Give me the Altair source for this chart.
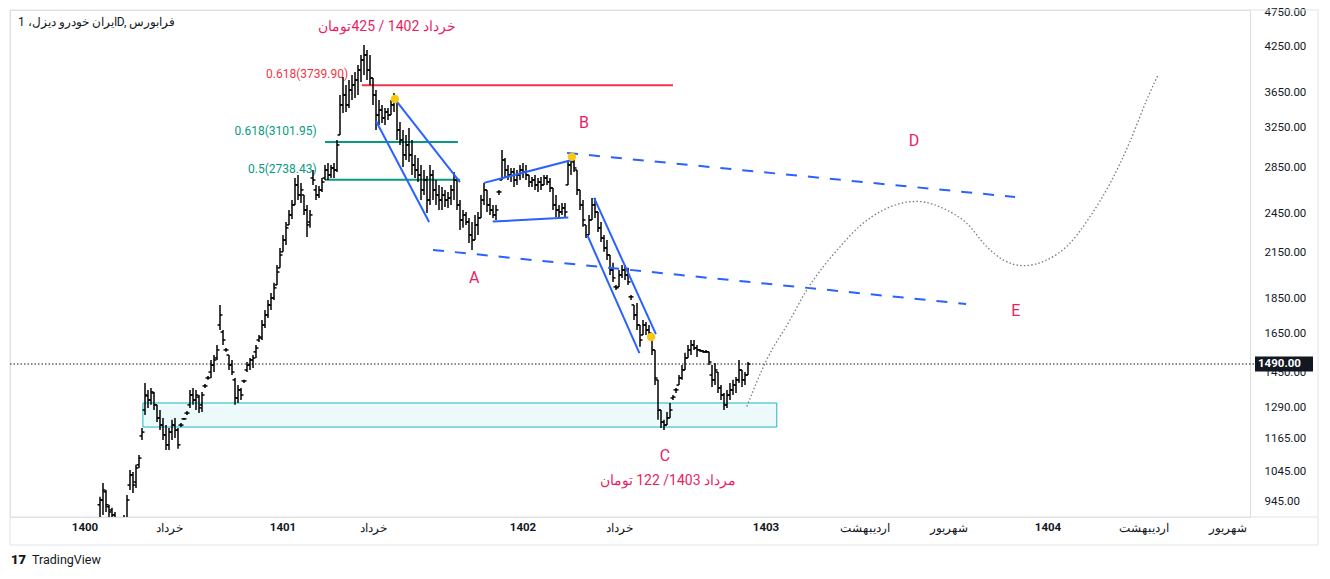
import altair as alt
import pandas as pd

# ---------------- OHLC bars (daily) ----------------
bar_high = [961, 1006, 983, 936, 927, 914, 890, 876, 905, 967,
            1050, 1043, 1068, 1103, 1206, 1400, 1368, 1377, 1359, 1302,
            1280, 1247, 1218, 1206, 1239, 1247, 1206, 1226, 1247, 1276,
            1368, 1377, 1368, 1345, 1359, 1395, 1432, 1510, 1535, 1587,
            1811, 1667, 1571, 1535, 1510, 1423, 1390, 1377, 1414, 1500,
            1520, 1535, 1587, 1640, 1723, 1781, 1841, 1884, 1948, 2067,
            2186, 2282, 2382, 2478, 2561, 2754, 2782, 2710, 2604, 2520,
            2478, 2828, 2692, 2683, 2754, 2875, 2894, 2875, 2894, 3123,
            3623, 3845, 3745, 3807, 3870, 3909, 4001, 4135, 4274, 4204,
            4135, 3832, 3683, 3564, 3506, 3471, 3471, 3564, 3647, 3564,
            3314, 3228, 3175, 3249, 3123, 2972, 2943, 2875, 2828, 2773,
            2875, 2828, 2736, 2692, 2674, 2648, 2630, 2692, 2810, 2754,
            2561, 2478, 2462, 2414, 2382, 2438, 2462, 2604, 2710, 2648,
            2578, 2520, 2520, 2648, 3021, 2943, 2875, 2847, 2847, 2828,
            2875, 2894, 2875, 2782, 2764, 2782, 2754, 2764, 2782, 2782,
            2754, 2665, 2604, 2520, 2536, 2536, 2923, 2943, 2923, 2828,
            2648, 2561, 2359, 2438, 2578, 2578, 2462, 2382, 2282, 2244,
            2136, 2081, 1935, 2033, 2067, 2067, 2047, 1872, 1811, 1823,
            1695, 1723, 1712, 1695, 1640, 1561, 1414, 1280, 1239, 1272,
            1310, 1345, 1377, 1437, 1485, 1546, 1587, 1613, 1613, 1587,
            1566, 1561, 1561, 1551, 1485, 1495, 1451, 1390, 1354, 1368,
            1400, 1414, 1428, 1510, 1461, 1451, 1500]
bar_low = [890, 905, 914, 899, 890, 876, 847, 834, 847, 890,
           983, 973, 989, 1057, 1159, 1259, 1289, 1302, 1280, 1230,
           1198, 1159, 1122, 1122, 1159, 1167, 1126, 1210, 1239, 1259,
           1289, 1302, 1280, 1267, 1272, 1377, 1414, 1423, 1451, 1510,
           1667, 1587, 1551, 1461, 1437, 1302, 1310, 1323, 1400, 1451,
           1461, 1471, 1520, 1603, 1613, 1678, 1735, 1781, 1841, 1935,
           2047, 2158, 2208, 2359, 2406, 2520, 2561, 2536, 2438, 2267,
           2336, 2692, 2561, 2578, 2630, 2736, 2736, 2754, 2754, 2810,
           3175, 3414, 3425, 3471, 3564, 3587, 3623, 3782, 3870, 3807,
           3745, 3506, 3228, 3281, 3303, 3281, 3336, 3391, 3425, 3123,
           3072, 2856, 2923, 2904, 2782, 2754, 2718, 2561, 2604, 2454,
           2520, 2561, 2520, 2478, 2478, 2503, 2495, 2520, 2561, 2478,
           2320, 2336, 2359, 2222, 2172, 2244, 2282, 2414, 2520, 2462,
           2438, 2414, 2398, 2604, 2736, 2754, 2736, 2718, 2674, 2692,
           2736, 2754, 2736, 2674, 2674, 2648, 2630, 2648, 2692, 2692,
           2630, 2478, 2422, 2422, 2438, 2414, 2692, 2782, 2810, 2604,
           2478, 2344, 2259, 2282, 2398, 2414, 2305, 2230, 2158, 2101,
           1999, 1954, 1903, 1922, 1980, 1967, 1935, 1841, 1723, 1667,
           1577, 1640, 1640, 1640, 1535, 1390, 1239, 1206, 1198, 1218,
           1247, 1323, 1354, 1390, 1414, 1461, 1520, 1535, 1561, 1525,
           1551, 1546, 1546, 1485, 1381, 1390, 1354, 1323, 1280, 1289,
           1323, 1345, 1354, 1400, 1381, 1390, 1437]
bar_open = [936, 951, 977, 930, 920, 905, 884, 861, 861, 896,
            999, 1033, 1009, 1068, 1175, 1280, 1341, 1323, 1354, 1302,
            1247, 1218, 1179, 1141, 1190, 1218, 1198, 1218, 1243, 1267,
            1302, 1345, 1323, 1336, 1302, 1386, 1423, 1451, 1485, 1520,
            1695, 1656, 1561, 1535, 1485, 1414, 1332, 1368, 1409, 1461,
            1485, 1510, 1551, 1613, 1624, 1695, 1752, 1811, 1853, 1935,
            2047, 2158, 2244, 2359, 2438, 2520, 2692, 2604, 2604, 2478,
            2382, 2754, 2648, 2604, 2648, 2754, 2828, 2782, 2847, 2828,
            3175, 3506, 3623, 3506, 3683, 3745, 3807, 3935, 4067, 4135,
            3935, 3832, 3623, 3391, 3448, 3358, 3425, 3391, 3506, 3564,
            3228, 3123, 2972, 3072, 2972, 2875, 2828, 2782, 2648, 2736,
            2561, 2782, 2648, 2604, 2561, 2604, 2561, 2578, 2648, 2736,
            2520, 2398, 2438, 2382, 2282, 2244, 2359, 2414, 2561, 2648,
            2520, 2478, 2438, 2630, 2736, 2923, 2828, 2782, 2810, 2736,
            2782, 2828, 2810, 2782, 2718, 2736, 2692, 2718, 2692, 2754,
            2718, 2665, 2520, 2478, 2462, 2495, 2692, 2875, 2904, 2828,
            2648, 2520, 2359, 2282, 2398, 2520, 2462, 2336, 2259, 2186,
            2136, 2033, 1922, 1922, 1999, 2033, 1999, 1860, 1811, 1752,
            1695, 1640, 1695, 1667, 1640, 1561, 1414, 1280, 1230, 1218,
            1247, 1332, 1368, 1390, 1423, 1461, 1520, 1561, 1587, 1571,
            1561, 1556, 1551, 1551, 1437, 1414, 1451, 1377, 1345, 1302,
            1345, 1368, 1390, 1414, 1461, 1414, 1437]
bar_close = [951, 983, 936, 914, 905, 884, 861, 855, 890, 951,
             1033, 999, 1057, 1092, 1190, 1345, 1323, 1359, 1302, 1247,
             1218, 1179, 1141, 1190, 1218, 1198, 1141, 1218, 1243, 1267,
             1345, 1323, 1345, 1289, 1345, 1386, 1423, 1485, 1510, 1561,
             1752, 1613, 1561, 1485, 1451, 1332, 1368, 1345, 1409, 1485,
             1510, 1520, 1571, 1629, 1695, 1752, 1811, 1853, 1916, 2019,
             2136, 2244, 2336, 2438, 2520, 2692, 2604, 2648, 2478, 2359,
             2438, 2736, 2604, 2648, 2718, 2828, 2782, 2847, 2828, 3072,
             3506, 3623, 3506, 3683, 3745, 3807, 3935, 4067, 4135, 3935,
             3832, 3623, 3391, 3448, 3358, 3425, 3391, 3506, 3564, 3228,
             3123, 2972, 3072, 2972, 2875, 2828, 2782, 2648, 2736, 2561,
             2782, 2648, 2604, 2561, 2604, 2561, 2578, 2648, 2736, 2520,
             2398, 2438, 2382, 2282, 2244, 2359, 2414, 2561, 2648, 2520,
             2478, 2438, 2478, 2630, 2923, 2828, 2782, 2810, 2736, 2782,
             2828, 2810, 2782, 2718, 2736, 2692, 2718, 2692, 2754, 2718,
             2665, 2520, 2478, 2462, 2495, 2462, 2875, 2923, 2847, 2648,
             2520, 2398, 2282, 2398, 2520, 2462, 2336, 2259, 2186, 2136,
             2033, 1980, 1916, 1999, 2033, 1999, 1954, 1860, 1752, 1695,
             1613, 1695, 1667, 1651, 1561, 1423, 1280, 1230, 1218, 1247,
             1280, 1336, 1368, 1423, 1461, 1520, 1561, 1587, 1571, 1561,
             1556, 1551, 1551, 1500, 1414, 1461, 1377, 1345, 1302, 1345,
             1368, 1390, 1414, 1461, 1414, 1437, 1490]

# ---------------- axes ----------------
price_ticks = [945, 1045, 1165, 1290, 1450, 1650, 1850, 2150, 2450, 2850,
               3250, 3650, 4250, 4750]
time_pos = [-5, 23, 61, 91, 141, 173, 222, 255, 283, 316, 348, 376]
time_text = ["1400", "خرداد", "1401", "خرداد", "1402", "خرداد", "1403",
             "اردیبهشت", "شهریور", "1404", "اردیبهشت", "شهریور"]
time_is_year = [True, False, True, False, True, False, True, False, False,
                True, False, False]

last_price = 1490

# ---------------- drawings ----------------
fib_x1 = [87.3, 75, 75]
fib_x2 = [191, 119.3, 120]
fib_price = [3739.90, 3101.95, 2738.43]
fib_label = ["0.618(3739.90)", "0.618(3101.95)", "0.5(2738.43)"]
fib_label_x = [82.7, 72.2, 72.2]
fib_color = ["#f23645", "#089981", "#089981"]

trend_x1 = [98.3, 92.0, 128.0, 130.9, 164.7, 162.4]
trend_p1 = [3575, 3325, 2710, 2385, 2579, 2282]
trend_x2 = [120.0, 109.7, 157.3, 156.1, 185.3, 179.8]
trend_p2 = [2718, 2382, 2923, 2418, 1645, 1545]

dash_x1 = [155.7, 111.0]
dash_p1 = [2992, 2172]
dash_x2 = [305.0, 288.7]
dash_p2 = [2587, 1817]

dot_x = [98.3, 157.3, 183.7]
dot_p = [3575, 2953, 1629]

path_x = [215.6, 222.2, 230.0, 235.6, 241.1, 246.7, 253.3, 261.1, 272.2,
          282.2, 288.9, 295.6, 301.1, 307.8, 315.6, 323.3, 330.0, 336.7,
          343.3, 348.9, 352.8]
path_p = [1295, 1510, 1723, 1903, 2055, 2195, 2351, 2478, 2549, 2478, 2372,
          2195, 2101, 2062, 2101, 2220, 2424, 2707, 3106, 3564, 3883]

zone_x = [14.3, 225.6]
zone_p = [1210, 1310]

wave_letters = ["A", "B", "C", "D", "E"]
wave_x = [124.7, 161.3, 188.3, 271.3, 305.3]
wave_p = [1980, 3303, 1100, 3113, 1775]

notes_text = ["خرداد 1402 / 425تومان", "مرداد 1403/ 122 تومان"]
notes_x = [95.7, 189.3]
notes_p = [4535, 1013]

title_text = "ایران خودرو دیزل، 1D, فرابورس"

# ---------------- build ----------------
n = min(len(bar_high), len(bar_low), len(bar_open), len(bar_close))
bars = pd.DataFrame({"i": list(range(n)), "hi": bar_high[:n], "lo": bar_low[:n],
                     "op": bar_open[:n], "cl": bar_close[:n]})

xs = alt.Scale(domain=[-30, 383.33], nice=False, zero=False)
ys = alt.Scale(type="log", domain=[899, 4797], nice=False)
PINK = "#e91e63"
BLUE = "#2962ff"
TXT = "#131722"

yaxis = alt.Axis(orient="right", values=price_ticks, format=".2f", grid=False,
                 ticks=False, domain=False, labelPadding=14, labelFontSize=11.5,
                 labelColor=TXT, labelFont="Roboto", title=None,
                 labelOverlap=False)


def X(f):
    return alt.X(f, type="quantitative", scale=xs, axis=None)


def Y(f):
    return alt.Y(f, type="quantitative", scale=ys, axis=yaxis)


one = pd.DataFrame({"k": [0]})

frame = alt.Chart(one).mark_rect(fillOpacity=0, stroke="#e0e3eb", strokeWidth=1).encode(
    x=alt.value(0), x2=alt.value(1308), y=alt.value(0), y2=alt.value(535))
sep = alt.Chart(one).mark_rule(color="#e0e3eb", strokeWidth=1).encode(
    x=alt.value(0), x2=alt.value(1308), y=alt.value(507))

zone = alt.Chart(pd.DataFrame({"x1": [zone_x[0]], "x2": [zone_x[1]],
                               "p1": [zone_p[0]], "p2": [zone_p[1]]})).mark_rect(
    fill="#00bcd4", fillOpacity=0.07, stroke="#1fb3c7", strokeWidth=1).encode(
    x=X("x1"), x2="x2:Q", y=Y("p1"), y2="p2:Q")

fib_df = pd.DataFrame({"x1": fib_x1, "x2": fib_x2, "p": fib_price,
                       "lab": fib_label, "lx": fib_label_x, "c": fib_color})
fib_lines = alt.Chart(fib_df).mark_rule(strokeWidth=2).encode(
    x=X("x1"), x2="x2:Q", y=Y("p"), color=alt.Color("c:N", scale=None))
fib_text = alt.Chart(fib_df).mark_text(align="right", baseline="middle", dy=-11,
                                       fontSize=12, font="Roboto").encode(
    x=X("lx"), y=Y("p"), text="lab:N", color=alt.Color("c:N", scale=None))

price_line = alt.Chart(pd.DataFrame({"p": [last_price]})).mark_rule(
    color="#131722", strokeWidth=1, strokeDash=[1.5, 2]).encode(
    x=alt.value(0), x2=alt.value(1245), y=Y("p"))

wick = alt.Chart(bars).mark_rule(color="#000000", strokeWidth=1.5, clip=True).encode(
    x=X("i"), y=Y("hi"), y2="lo:Q")
open_tick = alt.Chart(bars).mark_rule(color="#000000", strokeWidth=1.5, clip=True,
                                      xOffset=-2.5).encode(
    x=X("i"), x2=alt.X2("i:Q"), y=Y("op"))
close_tick = alt.Chart(bars).mark_rule(color="#000000", strokeWidth=1.5, clip=True,
                                       x2Offset=2.5).encode(
    x=X("i"), x2=alt.X2("i:Q"), y=Y("cl"))

trend = alt.Chart(pd.DataFrame({"x1": trend_x1, "p1": trend_p1, "x2": trend_x2,
                                "p2": trend_p2})).mark_rule(
    color=BLUE, strokeWidth=2).encode(x=X("x1"), y=Y("p1"), x2="x2:Q", y2="p2:Q")
dashed = alt.Chart(pd.DataFrame({"x1": dash_x1, "p1": dash_p1, "x2": dash_x2,
                                 "p2": dash_p2})).mark_rule(
    color=BLUE, strokeWidth=2, strokeDash=[11, 11]).encode(
    x=X("x1"), y=Y("p1"), x2="x2:Q", y2="p2:Q")
dots = alt.Chart(pd.DataFrame({"x": dot_x, "p": dot_p})).mark_point(
    filled=True, size=70, color="#f9c80e", opacity=1).encode(x=X("x"), y=Y("p"))

path = alt.Chart(pd.DataFrame({"x": path_x, "p": path_p})).mark_line(
    interpolate="monotone", color="#787b86", strokeWidth=1.3,
    strokeDash=[1.5, 2.2]).encode(x=X("x"), y=Y("p"))

letters = alt.Chart(pd.DataFrame({"t": wave_letters, "x": wave_x, "p": wave_p})).mark_text(
    fontSize=16, font="Roboto", color=PINK, baseline="middle").encode(
    x=X("x"), y=Y("p"), text="t:N")
notes = alt.Chart(pd.DataFrame({"t": notes_text, "x": notes_x, "p": notes_p})).mark_text(
    fontSize=14, font="Roboto", color=PINK, baseline="middle").encode(
    x=X("x"), y=Y("p"), text="t:N")

tdf = pd.DataFrame({"x": time_pos, "t": time_text, "y": time_is_year})
years = alt.Chart(tdf[tdf["y"]]).mark_text(
    fontSize=11.5, font="Roboto", fontWeight="bold", color=TXT, baseline="middle").encode(
    x=X("x"), y=alt.value(518), text="t:N")
months = alt.Chart(tdf[~tdf["y"]]).mark_text(
    fontSize=12, font="Roboto", color=TXT, baseline="middle").encode(
    x=X("x"), y=alt.value(518), text="t:N")

title = alt.Chart(pd.DataFrame({"t": [title_text]})).mark_text(
    fontSize=12, font="Roboto", color=TXT, align="left", baseline="middle").encode(
    x=alt.value(8), y=alt.value(12), text="t:N")

box = alt.Chart(pd.DataFrame({"p": [last_price]})).mark_rule(
    color="#131722", strokeWidth=15, strokeCap="butt").encode(
    x=alt.value(1245), x2=alt.value(1303), y=Y("p"))
box_text = alt.Chart(pd.DataFrame({"p": [last_price], "t": ["1490.00"]})).mark_text(
    fontSize=11.5, font="Roboto", fontWeight="bold", color="#ffffff", align="left",
    baseline="middle").encode(x=alt.value(1248), y=Y("p"), text="t:N")

logo = alt.Chart(pd.DataFrame({"t": ["17"]})).mark_text(
    fontSize=13, font="Roboto", fontWeight=900, color=TXT, align="left",
    baseline="middle").encode(x=alt.value(1), y=alt.value(550), text="t:N")
brand = alt.Chart(pd.DataFrame({"t": ["TradingView"]})).mark_text(
    fontSize=12.5, font="Roboto", color=TXT, align="left", baseline="middle").encode(
    x=alt.value(22), y=alt.value(550), text="t:N")

chart = alt.layer(
    frame, sep, zone, fib_lines, fib_text, price_line, wick, open_tick, close_tick,
    trend, dashed, dots, path, letters, notes, years, months, title, box, box_text,
    logo, brand
).properties(
    width=1240, height=507,
    autosize=alt.AutoSizeParams(type="none"),
    padding={"left": 2, "top": 2, "right": 72, "bottom": 60}
).configure_view(stroke=None).configure(background="#ffffff")

chart.save("out.html", embed_options={"renderer": "svg", "actions": False})
